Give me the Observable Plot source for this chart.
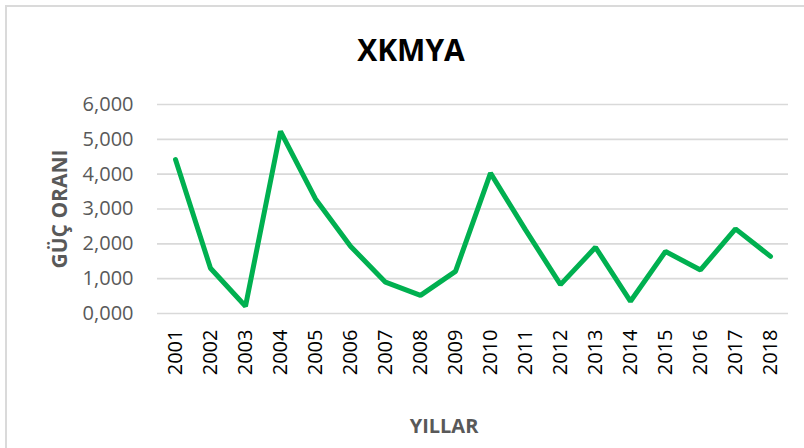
<!DOCTYPE html>
<html>
<head>
<meta charset="utf-8">
<script src="https://cdn.jsdelivr.net/npm/d3@7"></script>
<script src="https://cdn.jsdelivr.net/npm/@observablehq/plot@0.6"></script>
<style>
  html, body { margin: 0; padding: 0; background: #fff; }
  #wrap { position: relative; width: 804px; height: 448px; overflow: hidden; font-family: "Open Sans", sans-serif; }
  #border { position: absolute; left: 5px; top: 5px; width: 900px; height: 900px; border-left: 2px solid #dadada; border-top: 2px solid #dadada; box-sizing: border-box; }
  .lbl { position: absolute; white-space: nowrap; font-weight: bold; }
  #title { left: 411px; top: 49px; transform: translate(-50%, -50%); font-size: 30px; color: #000; }
  #xlab { left: 444px; top: 425px; transform: translate(-50%, -50%); font-size: 20px; color: #595959; }
  #ylab { left: 59px; top: 209px; transform: translate(-50%, -50%) rotate(-90deg); font-size: 21px; color: #595959; }
  svg { position: absolute; left: 0; top: 0; }
</style>
</head>
<body>
<div id="wrap">
  <div id="border"></div>
</div>
<script>
const years = ["2001","2002","2003","2004","2005","2006","2007","2008","2009","2010","2011","2012","2013","2014","2015","2016","2017","2018"];
const values = [4.42, 1.30, 0.21, 5.23, 3.29, 1.93, 0.90, 0.52, 1.21, 4.03, 2.40, 0.83, 1.90, 0.35, 1.78, 1.25, 2.43, 1.64];
const yTicks = [0, 1, 2, 3, 4, 5, 6];
const titleText = "XKMYA";
const xLabel = "YILLAR";
const yLabel = "GÜÇ ORANI";

const data = years.map((y, i) => ({year: y, value: values[i]}));

const chart = Plot.plot({
  width: 804,
  height: 448,
  marginTop: 104,
  marginBottom: 135,
  marginLeft: 157,
  marginRight: 16,
  style: { fontFamily: "Open Sans, sans-serif", background: "transparent" },
  x: { type: "point", domain: years, padding: 0.5, label: null },
  y: { domain: [0, 6], label: null },
  marks: [
    Plot.gridY(yTicks, { stroke: "#d9d9d9", strokeOpacity: 1, strokeWidth: 1.6 }),
    Plot.axisY(yTicks, {
      tickSize: 0, tickPadding: 24, fontSize: 20, fill: "#595959",
      tickFormat: d => d.toFixed(3).replace(".", ","), label: null
    }),
    Plot.axisX({
      tickSize: 0, tickPadding: 16, tickRotate: -90, fontSize: 20, fill: "#000", label: null
    }),
    Plot.line(data, { x: "year", y: "value", stroke: "#00B050", strokeWidth: 5, strokeLinejoin: "miter", strokeLinecap: "round" })
  ]
});

const wrap = document.getElementById("wrap");
wrap.appendChild(chart);
for (const [id, txt] of [["title", titleText], ["xlab", xLabel], ["ylab", yLabel]]) {
  const d = document.createElement("div");
  d.className = "lbl"; d.id = id; d.textContent = txt;
  wrap.appendChild(d);
}
</script>
</body>
</html>
